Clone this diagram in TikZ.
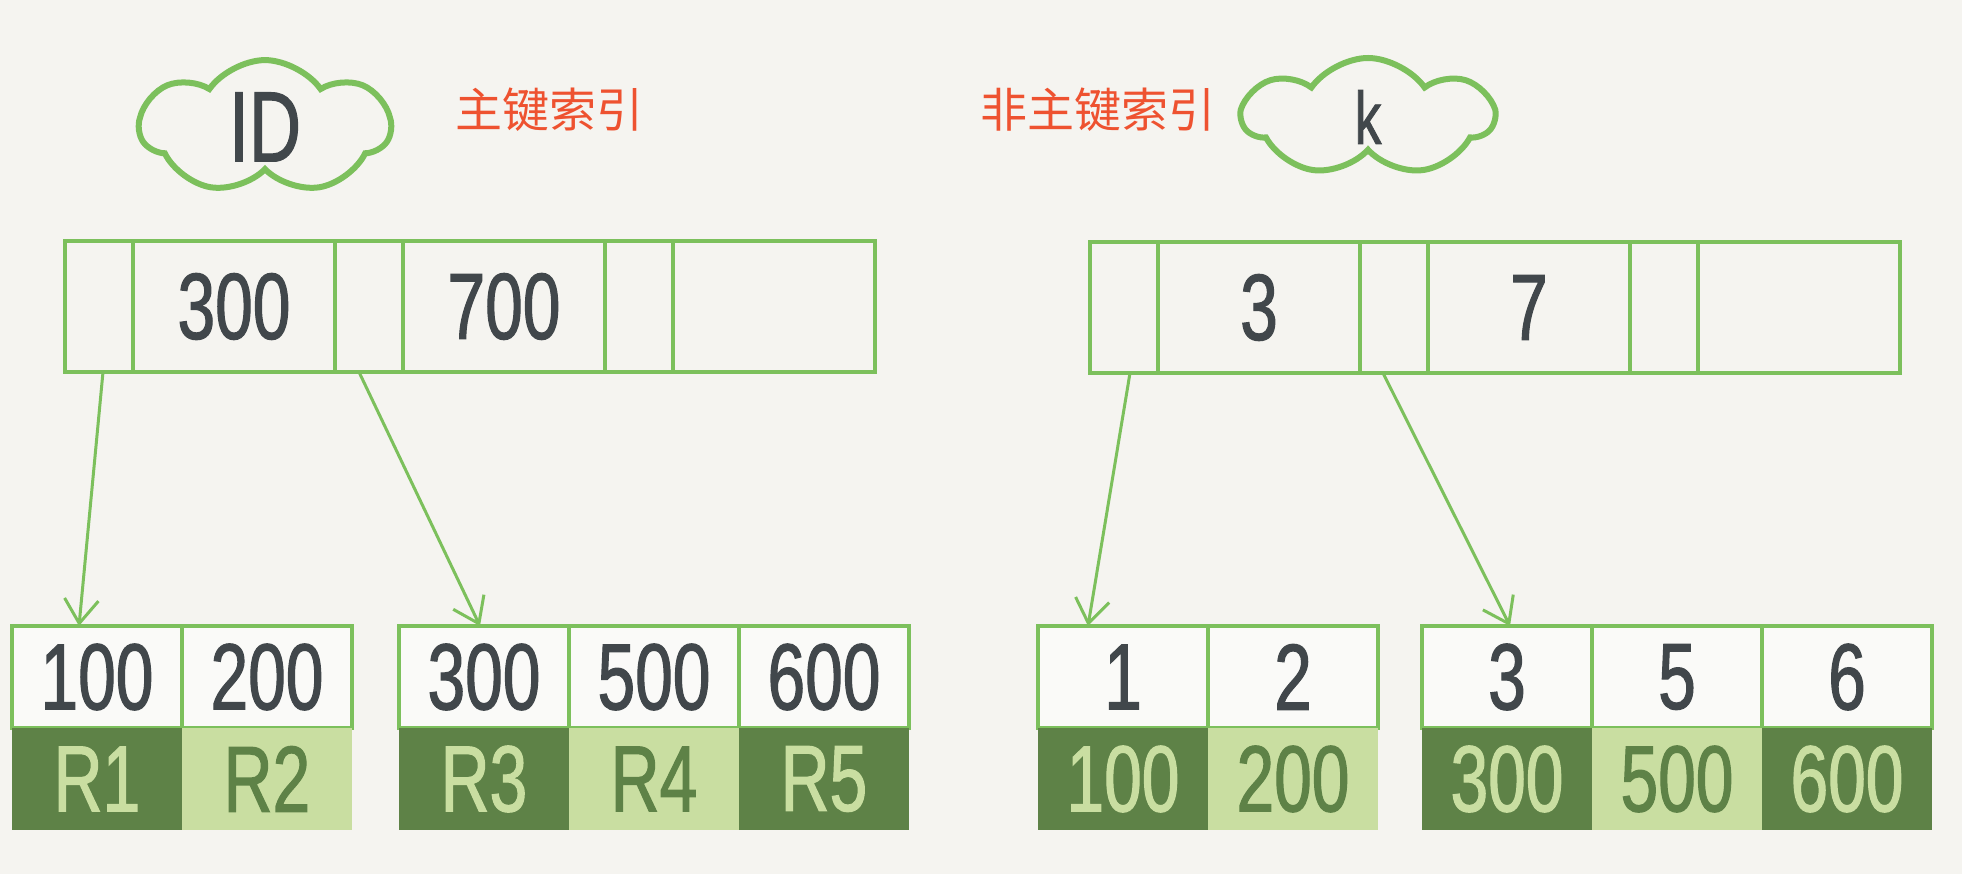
\documentclass[tikz,border=0pt]{standalone}
\usepackage{fontspec}
\setmainfont{Liberation Sans}
\newfontfamily\handfont[FakeStretch=0.72,FakeBold=1.2]{Liberation Sans}
\newfontfamily\cjkfont{Noto Sans CJK SC}
\usetikzlibrary{positioning,shapes.symbols,arrows.meta}
\definecolor{lnGreen}{HTML}{7CC05C}
\definecolor{darkCell}{HTML}{5E8247}
\definecolor{lightCell}{HTML}{C9DEA1}
\definecolor{inkGray}{HTML}{41474B}
\definecolor{titleRed}{HTML}{EE5230}
\definecolor{paper}{HTML}{F5F4F0}
\definecolor{cellWhite}{HTML}{FAFAF8}
\newcommand\hw{\handfont\fontsize{94}{94}\selectfont}

\begin{document}
\begin{tikzpicture}[x=1pt,y=-1pt,node distance=0pt,
  box/.style={draw=lnGreen,line width=4pt,outer sep=0pt,inner sep=0pt,minimum height=131pt,text=inkGray,font=\hw},
  ptr/.style={box,minimum width=68pt},
  key/.style={box,minimum width=202pt},
  leaf/.style={draw=lnGreen,line width=3.5pt,fill=cellWhite,outer sep=0pt,inner sep=0pt,minimum width=170pt,minimum height=102pt,text=inkGray,font=\hw},
  dk/.style={fill=darkCell,text=lightCell,outer sep=0pt,inner sep=0pt,minimum width=170pt,minimum height=102pt,font=\hw},
  lt/.style={dk,fill=lightCell,text=darkCell},
  puff/.style={cloud,cloud puffs=7,cloud puff arc=110,aspect=2.1,draw=lnGreen,line width=6pt,minimum width=250pt,minimum height=118pt,inner sep=0pt,text=inkGray},
  title/.style={text=titleRed,font=\cjkfont\fontsize{47}{47}\selectfont},
  >={Straight Barb[length=24pt,width=34pt]},
  link/.style={->,draw=lnGreen,line width=3pt}]
  \fill[paper] (0,0) rectangle (1962,874);
  \useasboundingbox (0,0) rectangle (1962,874);

  \node[puff] (idc) at (265,127) {\handfont\fontsize{100}{100}\selectfont ID};
  \node[title] (pk) at (549,110) {主键索引};
  \node[title] (sk) at (1098,110) {非主键索引};
  \node[puff] (kc) at (1368,117) {\handfont\fontsize{74}{74}\selectfont k};

  \node[ptr,anchor=north west] (p0) at (65,241) {};
  \node[key,right=of p0] (p1) {300};
  \node[ptr,right=of p1] (p2) {};
  \node[key,right=of p2] (p3) {700};
  \node[ptr,right=of p3] (p4) {};
  \node[key,right=of p4] (p5) {};

  \node[ptr,anchor=north west] (q0) at (1090,242) {};
  \node[key,right=of q0] (q1) {3};
  \node[ptr,right=of q1] (q2) {};
  \node[key,right=of q2] (q3) {7};
  \node[ptr,right=of q3] (q4) {};
  \node[key,right=of q4] (q5) {};

  \node[leaf,anchor=north west] (a100) at (12,626) {100};
  \node[leaf,right=of a100] (a200) {200};
  \node[dk,below=of a100] (r1) {R1};
  \node[lt,below=of a200] (r2) {R2};

  \node[leaf,anchor=north west] (a300) at (399,626) {300};
  \node[leaf,right=of a300] (a500) {500};
  \node[leaf,right=of a500] (a600) {600};
  \node[dk,below=of a300] (r3) {R3};
  \node[lt,below=of a500] (r4) {R4};
  \node[dk,below=of a600] (r5) {R5};

  \node[leaf,anchor=north west] (b1) at (1038,626) {1};
  \node[leaf,right=of b1] (b2) {2};
  \node[dk,below=of b1] (s100) {100};
  \node[lt,below=of b2] (s200) {200};

  \node[leaf,anchor=north west] (b3) at (1422,626) {3};
  \node[leaf,right=of b3] (b5) {5};
  \node[leaf,right=of b5] (b6) {6};
  \node[dk,below=of b3] (s300) {300};
  \node[lt,below=of b5] (s500) {500};
  \node[dk,below=of b6] (s600) {600};

  \draw[link] ([xshift=4pt]p0.south) -- ([xshift=-18pt]a100.north);
  \draw[link] ([xshift=-10pt]p2.south) -- ([xshift=-4pt]a300.north);
  \draw[link] ([xshift=6pt]q0.south) -- ([xshift=-35pt]b1.north);
  \draw[link] ([xshift=-11pt]q2.south) -- ([xshift=3pt]b3.north);
\end{tikzpicture}
\end{document}
